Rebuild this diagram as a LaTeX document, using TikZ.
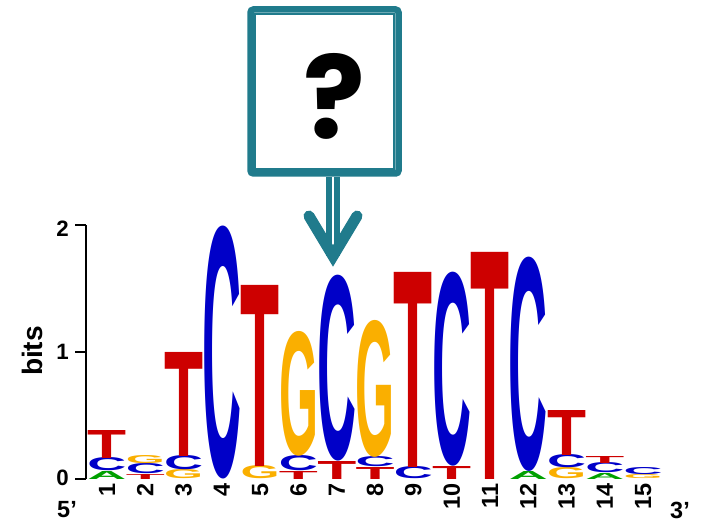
\documentclass[tikz,border=0pt]{standalone}
\usepackage{fontspec}
\usepackage{graphicx}
\setmainfont{Liberation Sans}
\newfontfamily\qfont{Poppins}
\usetikzlibrary{calc}

\definecolor{boxteal}{RGB}{32,123,140}
\definecolor{baseA}{RGB}{0,160,0}
\definecolor{baseC}{RGB}{0,0,200}
\definecolor{baseG}{RGB}{250,175,0}
\definecolor{baseT}{RGB}{205,0,0}

\newdimen\pxu
\pxu=0.3mm

\tikzstyle{letter} = [
	inner sep=0pt, 
	outer sep=0pt, 
	anchor=south, 
	font=\bfseries]
\tikzstyle{poslabel} = [
	rotate=90, 
	anchor=east, 
	inner sep=0pt, 
	font=\fontsize{20}{21}\selectfont\bfseries]
\tikzstyle{ticklabel} = [
	anchor=east, 
	inner sep=0pt, 
	font=\fontsize{19}{20}\selectfont\bfseries]
\tikzstyle{endlabel} = [
	inner sep=0pt, 
	font=\fontsize{20}{21}\selectfont\bfseries]
\tikzstyle{qbox} = [
	rectangle, 
	rounded corners=3*\pxu, 
	draw=boxteal, 
	line width=6.5*\pxu, 
	minimum width=148*\pxu, 
	minimum height=164*\pxu, 
	fill=white]
\tikzstyle{shaft} = [draw=boxteal, line width=6*\pxu, double=white, double distance=2*\pxu]
\tikzstyle{vhead} = [draw=boxteal, line width=11*\pxu, line cap=round, miter limit=10]
\tikzstyle{axis} = [line width=1.8*\pxu]

% column, bottom, height, base, colour
\newcommand{\logoletter}[5]{%
	\node (p#1#4) [letter, text=#5] at ({107+(#1-1)*38.3},#2) {\resizebox{39\pxu}{#3\pxu}{#4}};}

\begin{document}
\begin{tikzpicture}[x=0.3mm, y=-0.3mm]
\useasboundingbox (0,0) rectangle (706,523);

% --- Axis ---
\coordinate (ytop) at (86,225);
\coordinate (ymid) at (86,352);
\coordinate (ybot) at (86,479);
\draw [axis] (ytop) -- (ybot);
\draw [axis] (ytop) -- ++(-11,0);
\draw [axis] (ymid) -- ++(-11,0);
\draw [axis] (ybot) -- ++(-11,0);
\node (t2) [ticklabel] at (69,229) {2};
\node (t1) [ticklabel] at (69,352) {1};
\node (t0) [ticklabel] at (69,478) {0};
\node (bits) [endlabel, rotate=90, font=\fontsize{24}{25}\selectfont\bfseries] at (32,351) {bits};
\node (five) [endlabel] at (67,510) {5'};
\node (three) [endlabel] at (680,510) {3'};

% --- Letters ---
\logoletter{1}{479}{8}{A}{baseA}
\logoletter{1}{471}{13}{C}{baseC}
\logoletter{1}{458}{28}{T}{baseT}

\logoletter{2}{479}{5}{T}{baseT}
\logoletter{2}{474}{10}{C}{baseC}
\logoletter{2}{464}{8}{G}{baseG}

\logoletter{3}{479}{9}{G}{baseG}
\logoletter{3}{470}{14}{C}{baseC}
\logoletter{3}{456}{104}{T}{baseT}

\logoletter{4}{479}{249}{C}{baseC}

\logoletter{5}{479}{13}{G}{baseG}
\logoletter{5}{466}{181}{T}{baseT}

\logoletter{6}{479}{8}{T}{baseT}
\logoletter{6}{471}{15}{C}{baseC}
\logoletter{6}{456}{123}{G}{baseG}

\logoletter{7}{479}{18}{T}{baseT}
\logoletter{7}{461}{183}{C}{baseC}

\logoletter{8}{479}{12}{T}{baseT}
\logoletter{8}{467}{10}{C}{baseC}
\logoletter{8}{457}{135}{G}{baseG}

\logoletter{9}{479}{12}{C}{baseC}
\logoletter{9}{467}{195}{T}{baseT}

\logoletter{10}{479}{13}{T}{baseT}
\logoletter{10}{466}{191}{C}{baseC}

\logoletter{11}{479}{227}{T}{baseT}

\logoletter{12}{479}{8}{A}{baseA}
\logoletter{12}{471}{211}{C}{baseC}

\logoletter{13}{479}{11}{G}{baseG}
\logoletter{13}{468}{13}{C}{baseC}
\logoletter{13}{455}{45}{T}{baseT}

\logoletter{14}{479}{6}{A}{baseA}
\logoletter{14}{473}{10}{C}{baseC}
\logoletter{14}{463}{7}{T}{baseT}

\logoletter{15}{479}{4}{G}{baseG}
\logoletter{15}{475}{7}{C}{baseC}

% --- Positions ---
\node (n1) [poslabel] at (107.0,483) {1};
\node (n2) [poslabel] at (145.3,483) {2};
\node (n3) [poslabel] at (183.6,483) {3};
\node (n4) [poslabel] at (221.9,483) {4};
\node (n5) [poslabel] at (260.2,483) {5};
\node (n6) [poslabel] at (298.5,483) {6};
\node (n7) [poslabel] at (336.8,483) {7};
\node (n8) [poslabel] at (375.1,483) {8};
\node (n9) [poslabel] at (413.4,483) {9};
\node (n10) [poslabel] at (451.7,483) {10};
\node (n11) [poslabel] at (490.0,483) {11};
\node (n12) [poslabel] at (528.3,483) {12};
\node (n13) [poslabel] at (566.6,483) {13};
\node (n14) [poslabel] at (604.9,483) {14};
\node (n15) [poslabel] at (643.2,483) {15};

% --- Box and arrow ---
\node (qbox) [qbox] at (324.5,91.5) {};
\draw [boxteal, line width=1.8*\pxu] ($(qbox.north west)+(7.5,7.5)$) rectangle ($(qbox.south east)+(-7.5,-7.5)$);
\node (qmark) [inner sep=0pt, font=\qfont\bfseries\fontsize{98}{100}\selectfont] at (334,96) {?};

\coordinate (tip) at (333,256);
\draw [shaft] (qbox.south -| tip) -- (tip);
\draw [vhead] (tip) ++(-24,-40) -- (tip) -- ++(24,-40);

\end{tikzpicture}
\end{document}
